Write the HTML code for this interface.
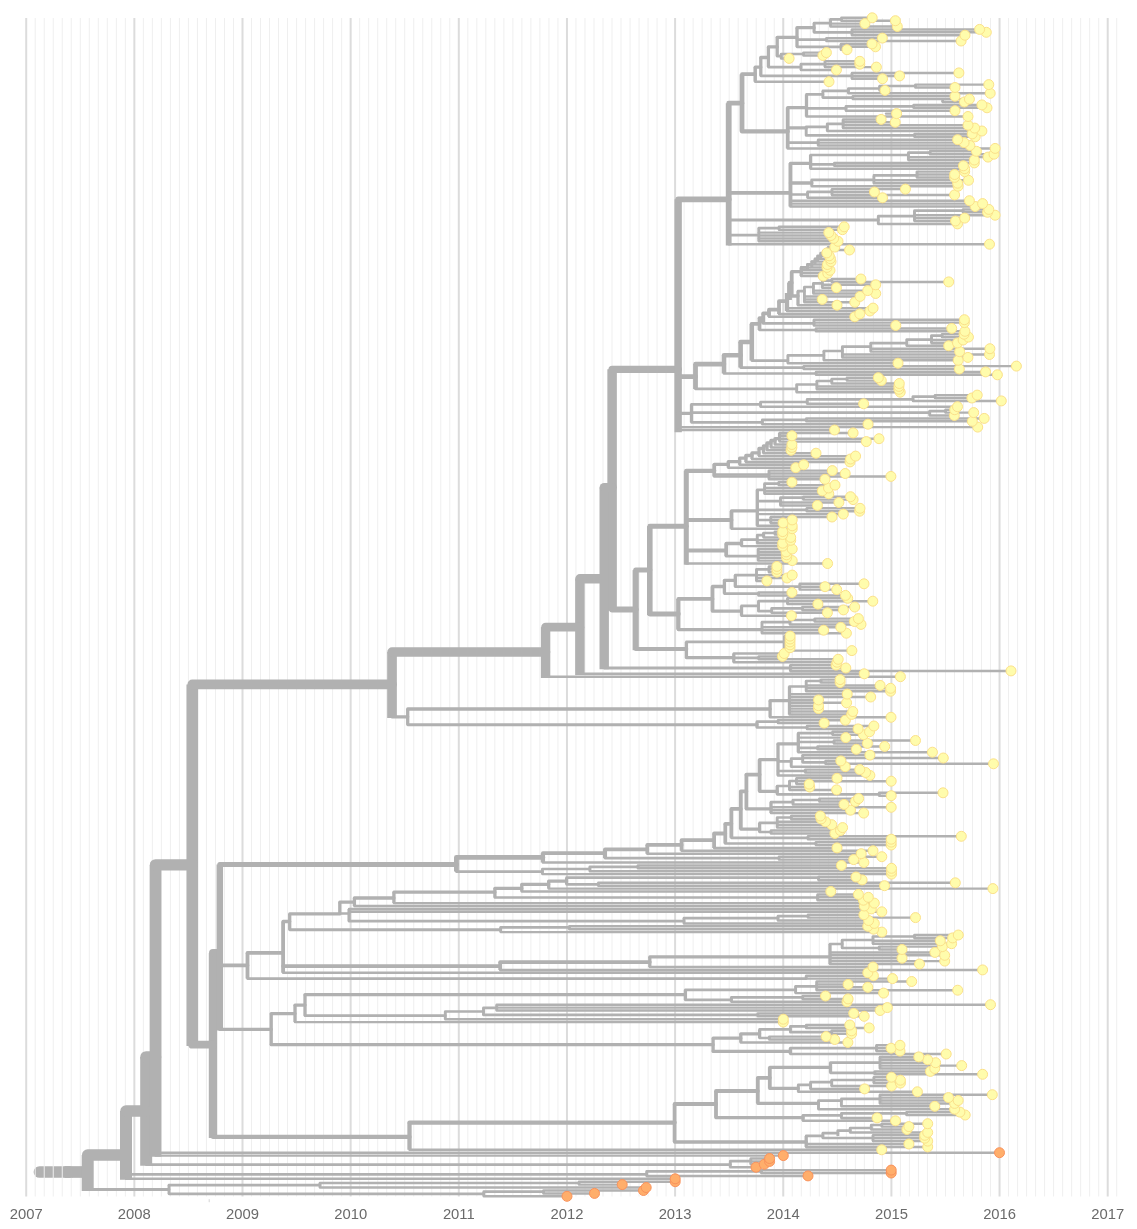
<!DOCTYPE html><html><head><meta charset="utf-8"><style>html,body{margin:0;padding:0;background:#fff}body{width:1137px;height:1229px;overflow:hidden;position:relative;font-family:"Liberation Sans",sans-serif}</style></head><body><svg width="1137" height="1229" viewBox="0 0 1137 1229" style="position:absolute;left:0;top:0;filter:blur(0.35px)">
<line x1="39.5" y1="1172" x2="70" y2="1172" stroke="#b1b1b1" stroke-width="11.7" stroke-linecap="round"/>
<path d="M35.21 18V1196.5M44.23 18V1196.5M53.24 18V1196.5M62.25 18V1196.5M71.26 18V1196.5M80.28 18V1196.5M89.29 18V1196.5M98.30 18V1196.5M107.31 18V1196.5M116.33 18V1196.5M125.34 18V1196.5M143.36 18V1196.5M152.38 18V1196.5M161.39 18V1196.5M170.40 18V1196.5M179.41 18V1196.5M188.42 18V1196.5M197.44 18V1196.5M206.45 18V1196.5M215.46 18V1196.5M224.47 18V1196.5M233.49 18V1196.5M251.51 18V1196.5M260.53 18V1196.5M269.54 18V1196.5M278.55 18V1196.5M287.56 18V1196.5M296.57 18V1196.5M305.59 18V1196.5M314.60 18V1196.5M323.61 18V1196.5M332.62 18V1196.5M341.64 18V1196.5M359.66 18V1196.5M368.67 18V1196.5M377.69 18V1196.5M386.70 18V1196.5M395.71 18V1196.5M404.73 18V1196.5M413.74 18V1196.5M422.75 18V1196.5M431.76 18V1196.5M440.78 18V1196.5M449.79 18V1196.5M467.81 18V1196.5M476.82 18V1196.5M485.84 18V1196.5M494.85 18V1196.5M503.86 18V1196.5M512.88 18V1196.5M521.89 18V1196.5M530.90 18V1196.5M539.91 18V1196.5M548.93 18V1196.5M557.94 18V1196.5M575.96 18V1196.5M584.98 18V1196.5M593.99 18V1196.5M603.00 18V1196.5M612.01 18V1196.5M621.03 18V1196.5M630.04 18V1196.5M639.05 18V1196.5M648.06 18V1196.5M657.08 18V1196.5M666.09 18V1196.5M684.11 18V1196.5M693.13 18V1196.5M702.14 18V1196.5M711.15 18V1196.5M720.16 18V1196.5M729.18 18V1196.5M738.19 18V1196.5M747.20 18V1196.5M756.21 18V1196.5M765.23 18V1196.5M774.24 18V1196.5M792.26 18V1196.5M801.27 18V1196.5M810.29 18V1196.5M819.30 18V1196.5M828.31 18V1196.5M837.33 18V1196.5M846.34 18V1196.5M855.35 18V1196.5M864.36 18V1196.5M873.38 18V1196.5M882.39 18V1196.5M900.41 18V1196.5M909.43 18V1196.5M918.44 18V1196.5M927.45 18V1196.5M936.46 18V1196.5M945.48 18V1196.5M954.49 18V1196.5M963.50 18V1196.5M972.51 18V1196.5M981.53 18V1196.5M990.54 18V1196.5M1008.56 18V1196.5M1017.58 18V1196.5M1026.59 18V1196.5M1035.60 18V1196.5M1044.61 18V1196.5M1053.62 18V1196.5M1062.64 18V1196.5M1071.65 18V1196.5M1080.66 18V1196.5M1089.68 18V1196.5M1098.69 18V1196.5M1116.71 18V1196.5" stroke="#efefef" stroke-width="1" fill="none"/>
<path d="M26.20 18V1196.5M134.35 18V1196.5M242.50 18V1196.5M350.65 18V1196.5M458.80 18V1196.5M566.95 18V1196.5M675.10 18V1196.5M783.25 18V1196.5M891.40 18V1196.5M999.55 18V1196.5M1107.70 18V1196.5" stroke="#dcdcdc" stroke-width="2" fill="none"/>
<line x1="64.5" y1="1172" x2="88" y2="1172" stroke="#b1b1b1" stroke-width="11.7"/>
<path d="M87.7 1155.0V1190.9M126.0 1111.0V1179.8" stroke="#b1b1b1" stroke-width="12" fill="none"/>
<path d="M146.1 1057.0V1165.8" stroke="#b1b1b1" stroke-width="11.8" fill="none"/>
<path d="M146.1 1057.0H155.5" stroke="#b1b1b1" stroke-width="11.7" fill="none" stroke-linecap="round"/>
<path d="M155.5 864.9V1156.8M192.3 684.4V1045.9" stroke="#b1b1b1" stroke-width="11.7" fill="none"/>
<path d="M87.7 1155.0H126.0M126.0 1111.0H146.1" stroke="#b1b1b1" stroke-width="11.5" fill="none" stroke-linecap="round"/>
<path d="M155.5 864.9H192.3" stroke="#b1b1b1" stroke-width="11.4" fill="none" stroke-linecap="round"/>
<path d="M192.3 684.4H392.0" stroke="#b1b1b1" stroke-width="9.7" fill="none" stroke-linecap="round"/>
<path d="M392.0 652.0V718.0" stroke="#b1b1b1" stroke-width="9.7" fill="none"/>
<path d="M579.9 578.8V675.0M612.1 369.3V610.8" stroke="#b1b1b1" stroke-width="9.5" fill="none"/>
<path d="M392.0 652.0H545.6M579.9 578.8H604.2" stroke="#b1b1b1" stroke-width="9.4" fill="none" stroke-linecap="round"/>
<path d="M545.6 627.2V677.9M604.2 487.5V669.2" stroke="#b1b1b1" stroke-width="9.4" fill="none"/>
<path d="M604.2 487.5H612.1" stroke="#b1b1b1" stroke-width="9.2" fill="none" stroke-linecap="round"/>
<path d="M545.6 627.2H579.9" stroke="#b1b1b1" stroke-width="8.8" fill="none" stroke-linecap="round"/>
<path d="M213.0 953.0V1138.1" stroke="#b1b1b1" stroke-width="8.4" fill="none"/>
<path d="M213.0 953.0H216.5" stroke="#b1b1b1" stroke-width="8" fill="none" stroke-linecap="round"/>
<path d="M192.3 1044.7H213.0" stroke="#b1b1b1" stroke-width="7.8" fill="none" stroke-linecap="round"/>
<path d="M612.1 369.3H678.2" stroke="#b1b1b1" stroke-width="7.3" fill="none" stroke-linecap="round"/>
<path d="M678.2 199.3V432.2" stroke="#b1b1b1" stroke-width="7.3" fill="none"/>
<path d="M219.8 864.5V1030.6" stroke="#b1b1b1" stroke-width="6.5" fill="none"/>
<path d="M635.7 570.1V650.2" stroke="#b1b1b1" stroke-width="6.2" fill="none"/>
<path d="M612.1 609.6H635.7" stroke="#b1b1b1" stroke-width="6" fill="none" stroke-linecap="round"/>
<path d="M728.7 103.2V245.4" stroke="#b1b1b1" stroke-width="5.8" fill="none"/>
<path d="M678.2 199.3H728.7" stroke="#b1b1b1" stroke-width="5.7" fill="none" stroke-linecap="round"/>
<path d="M649.8 526.2V615.2" stroke="#b1b1b1" stroke-width="5.6" fill="none"/>
<path d="M219.8 864.5H456.4M635.7 570.1H649.8" stroke="#b1b1b1" stroke-width="5" fill="none" stroke-linecap="round"/>
<path d="M686.3 470.8V564.7" stroke="#b1b1b1" stroke-width="5" fill="none"/>
<path d="M649.8 526.2H686.3" stroke="#b1b1b1" stroke-width="4.9" fill="none" stroke-linecap="round"/>
<path d="M728.7 103.2H742.0M678.2 376.6H695.5M649.8 614.0H678.3M456.4 857.4H542.9" stroke="#b1b1b1" stroke-width="4.8" fill="none" stroke-linecap="round"/>
<path d="M742.0 74.2V131.4M695.5 364.1V388.9M789.5 282.7V300.0M456.4 857.4V871.6" stroke="#b1b1b1" stroke-width="4.8" fill="none"/>
<path d="M695.5 364.1H724.0M724.0 355.2H740.6M740.6 342.0H751.8" stroke="#b1b1b1" stroke-width="4.6" fill="none" stroke-linecap="round"/>
<path d="M724.0 355.2V373.5M740.6 342.0V367.6M751.8 323.9V360.6" stroke="#b1b1b1" stroke-width="4.6" fill="none"/>
<path d="M213.0 1136.9H409.5M409.5 1122.6H674.6M742.0 131.4H787.7M686.3 470.8H714.2" stroke="#b1b1b1" stroke-width="4.3" fill="none" stroke-linecap="round"/>
<path d="M409.5 1122.6V1149.8M787.0 293.0V311.0M678.3 598.9V629.6M542.9 853.2V862.5" stroke="#b1b1b1" stroke-width="4.3" fill="none"/>
<path d="M605.0 849.3V858.1" stroke="#b1b1b1" stroke-width="4.1" fill="none"/>
<path d="M219.8 965.3H247.5M674.6 1104.0H716.0M716.0 1091.0H757.8M742.0 74.2H755.2M728.7 192.9H790.4M751.6 323.9H759.5M759.5 318.1H763.2M763.2 313.4H769.0M769.0 309.7H779.0M779.0 301.2H787.0M789.5 282.7H791.7M635.7 649.0H686.4M686.3 520.0H731.5M686.3 550.5H726.2M678.3 598.9H712.5M542.9 853.2H605.0M605.0 849.3H647.3M647.3 844.9H681.6M681.6 840.2H714.1M714.1 833.5H725.3M725.3 823.8H731.4M731.4 808.9H740.8M740.8 791.3H746.4M746.4 774.6H759.6M247.5 952.9H283.1M283.1 966.1H500.2M500.2 962.1H649.8M757.8 1077.8H769.8" stroke="#b1b1b1" stroke-width="3.8" fill="none" stroke-linecap="round"/>
<path d="M674.6 1104.0V1142.0M716.0 1091.0V1117.7M787.7 107.6V148.4M790.4 163.3V206.5M759.5 318.1V330.0M763.2 313.4V323.4M769.0 309.7V316.8M779.0 301.2V313.9M791.7 271.7V296.0M714.2 464.3V476.4M731.5 510.9V528.7M726.2 543.5V556.2M712.5 586.5V611.2M647.3 844.9V853.7M681.6 840.2V850.8M714.1 833.5V847.9M725.3 823.8V843.5M731.4 808.9V837.8M740.8 791.3V829.1M746.4 774.6V808.9M759.6 759.6V791.3M247.5 952.9V978.6M283.1 921.5V972.8M500.2 962.1V969.9M757.8 1077.8V1103.3M769.8 1067.3V1088.4" stroke="#b1b1b1" stroke-width="3.8" fill="none"/>
<path d="M755.2 67.2V81.7" stroke="#b1b1b1" stroke-width="3.5" fill="none"/>
<path d="M392.0 716.8H407.7M407.7 709.0H770.1M219.8 1029.4H271.2M716.0 1117.7H803.0M674.6 1142.0H806.2M755.2 67.2H760.8M760.8 57.5H768.4M768.4 46.9H777.2M777.2 37.3H797.0M797.0 27.7H814.1M787.7 107.6H806.5M787.7 127.9H806.2M790.4 163.3H810.6M790.4 183.0H811.8M791.7 271.7H801.2M791.7 296.0H798.0M678.2 413.3H691.5M686.4 657.6H733.8M714.2 464.3H728.3M728.3 461.7H739.7M739.7 458.1H745.9M745.9 455.5H752.0M752.0 452.9H759.0M759.0 448.5H763.5M763.5 445.8H767.0M767.0 443.0H771.0M771.0 440.5H775.0M775.0 438.7H779.6M731.5 510.9H757.3M726.2 543.5H741.5M712.5 586.5H724.4M724.4 580.4H735.3M712.5 611.2H741.5M678.3 629.6H762.0M770.1 700.7H789.5M740.8 829.1H759.6M746.4 808.9H771.0M759.6 791.3H777.2M759.6 759.6H778.0M778.0 743.8H798.3M283.1 921.5H289.7M289.7 913.9H339.8M339.8 902.2H354.4M354.4 898.0H393.9M393.9 892.2H494.9M494.9 888.3H521.8M521.8 884.3H548.7M548.7 881.1H566.6M649.8 956.9H830.0M271.2 1013.6H295.0M295.0 1005.1H305.0M305.0 994.6H685.4M271.2 1044.7H713.1M713.1 1038.2H740.8M740.8 1033.8H759.6M713.1 1051.4H790.4M769.8 1067.3H830.5M769.8 1088.4H798.3M757.8 1103.3H818.5" stroke="#b1b1b1" stroke-width="3.3" fill="none" stroke-linecap="round"/>
<path d="M407.7 709.0V724.8M760.8 57.5V75.8M768.4 46.9V67.1M777.2 37.3V56.2M797.0 27.7V46.8M806.5 94.4V116.5M810.6 155.0V168.7M801.2 267.4V276.1M798.0 291.2V305.2M691.5 404.3V422.3M686.4 641.9V657.6M733.8 653.5V662.2M728.3 461.7V467.7M739.7 458.1V464.8M745.9 455.5V461.9M752.0 452.9V459.0M759.0 448.5V456.1M763.5 445.8V453.2M767.0 443.0V450.3M771.0 440.5V447.4M775.0 438.7V444.5M779.6 432.9V441.6M757.3 489.8V525.8M741.5 539.6V546.1M724.4 580.4V593.6M735.3 575.1V586.7M741.5 605.9V615.7M770.1 700.7V717.3M789.5 686.5V714.4M757.0 721.7V727.5M759.6 822.9V832.0M771.0 802.2V813.1M777.2 786.0V794.3M778.0 743.8V775.4M798.3 733.2V752.2M289.7 913.9V929.7M339.8 902.2V913.9M354.4 898.0V906.0M393.9 892.2V903.1M494.9 888.3V897.5M521.8 884.3V891.5M548.7 881.1V888.6M566.6 877.7V884.3M349.1 908.9V921.2M649.8 956.9V967.0M830.0 944.0V964.0M271.2 1013.6V1044.7M295.0 1005.1V1022.1M305.0 994.6V1015.7M685.4 989.8V999.9M713.1 1038.2V1051.4M740.8 1033.8V1042.4M759.6 1029.4V1038.0M790.4 1048.1V1054.0M830.5 1062.6V1072.8M803.0 1115.3V1120.8M806.2 1135.9V1146.9" stroke="#b1b1b1" stroke-width="3.3" fill="none"/>
<path d="M814.1 23.1V32.3" stroke="#b1b1b1" stroke-width="3.1" fill="none"/>
<path d="M87.7 1189.5H169.0M407.7 724.8H757.0M604.2 668.0H790.4M728.7 220.0H878.3M728.7 235.1H758.8M456.4 871.6H542.4M289.7 929.7H500.7M146.1 1164.6H730.3M126.0 1174.4H646.7" stroke="#b1b1b1" stroke-width="2.9" fill="none" stroke-linecap="round"/>
<path d="M790.4 665.1V670.9M852.0 72.9V78.8M801.0 64.2V70.0M825.0 61.3V67.1M781.2 54.0V58.4M803.5 52.6V55.5M841.0 43.9V49.7M826.4 38.1V41.0M852.0 29.4V35.2M830.5 19.3V26.5M841.4 17.8V20.7M822.9 90.9V97.6M848.4 88.5V93.3M879.7 86.0V90.4M915.4 84.6V87.5M852.8 96.2V99.1M942.7 99.1V102.0M913.6 104.9V107.8M846.0 106.4V110.7M806.2 126.8V135.4M827.3 123.8V131.0M843.1 119.4V128.1M914.5 133.9V136.8M818.2 139.7V145.5M908.4 152.7V160.0M930.0 151.3V154.2M834.3 162.9V165.8M811.8 179.8V186.2M873.9 176.0V183.2M917.0 171.6V177.4M807.6 191.9V197.8M832.0 189.1V194.9M878.3 216.2V223.9M914.5 210.7V221.0M963.0 209.4V212.3M758.8 228.2V241.3M779.0 226.8V229.7M816.0 328.4V331.3M814.0 319.7V325.5M807.5 264.3V270.6M811.8 261.6V266.9M815.0 259.0V264.3M817.6 256.4V261.6M820.7 253.7V259.0M828.0 247.1V250.0M804.4 287.0V302.3M813.4 283.3V293.5M822.3 280.6V287.7M831.8 279.0V281.9M796.7 384.5V392.2M816.9 381.0V389.3M831.8 379.0V383.5M847.0 377.7V380.6M816.0 371.9V374.8M803.7 366.1V369.0M787.9 355.4V363.2M823.9 351.0V360.3M842.4 346.6V357.4M870.8 343.1V351.6M906.8 339.6V345.8M931.5 335.6V342.9M942.0 334.2V337.1M760.6 402.0V406.7M807.2 399.4V403.8M913.0 396.6V400.9M935.0 395.1V398.0M762.3 419.9V424.2M806.3 418.4V421.3M929.7 411.1V415.5M945.5 409.7V412.6M784.5 636.1V650.6M758.7 656.4V659.3M769.0 470.6V479.3M764.6 483.7V493.8M778.7 482.2V485.1M780.5 497.7V505.4M803.3 496.7V499.6M806.8 508.3V511.2M770.8 517.0V522.9M757.3 535.2V543.2M763.5 533.0V537.4M775.0 531.6V534.5M758.2 549.0V560.6M756.5 569.3V580.9M769.0 566.4V572.2M799.8 583.8V589.6M758.5 592.5V595.4M758.5 601.2V611.2M787.5 598.3V604.1M771.7 608.4V612.8M802.4 607.0V609.9M762.0 622.2V633.2M790.0 620.0V624.4M814.8 618.6V621.5M806.2 681.0V691.2M821.0 679.6V682.5M778.0 720.2V723.1M807.0 726.0V728.9M779.0 856.7V859.6M815.9 842.1V845.0M808.0 836.3V839.2M777.2 817.5V827.6M791.2 816.0V818.9M771.0 830.5V833.4M793.0 800.0V804.4M819.4 798.6V801.5M789.5 781.0V789.9M796.5 778.3V784.1M879.2 792.8V795.7M832.6 731.8V734.7M834.0 740.5V743.4M817.6 746.4V749.3M791.2 758.7V766.7M802.7 755.1V762.3M825.5 760.9V763.8M805.3 769.6V772.5M542.4 869.0V874.1M589.9 866.8V871.2M637.9 865.4V868.3M818.5 877.0V879.9M598.3 882.8V885.7M817.6 894.4V900.2M684.0 918.1V923.4M778.0 916.2V920.5M808.0 914.7V917.6M500.7 927.3V932.1M569.3 926.3V929.2M842.2 940.0V948.0M873.0 936.5V943.7M914.4 935.0V937.9M879.2 946.6V949.5M806.2 975.7V978.6M795.6 986.3V993.1M816.7 981.5V990.2M731.4 997.3V1001.8M802.7 996.0V998.9M445.3 1011.5V1019.2M483.5 1007.8V1014.9M496.7 1004.7V1010.5M757.8 1013.4V1016.3M790.4 1026.4V1032.2M806.2 1025.0V1027.9M831.7 1030.8V1033.7M769.3 1036.6V1039.5M876.5 1045.3V1051.1M880.0 1056.9V1068.5M874.8 1071.4V1074.3M798.3 1084.9V1091.8M810.6 1082.2V1088.9M831.7 1080.0V1086.0M873.9 1077.2V1083.1M818.5 1100.7V1109.2M841.4 1098.9V1106.3M880.0 1094.7V1103.4M841.4 1113.4V1117.9M906.5 1112.1V1115.0M822.9 1133.2V1138.0M837.9 1130.6V1135.9M850.2 1128.0V1132.4M871.3 1125.0V1129.5M881.8 1123.7V1126.6M873.0 1135.3V1141.1M730.3 1161.2V1167.2M750.8 1158.5V1164.3M646.7 1171.4V1175.9M761.3 1170.1V1173.0M169.0 1185.1V1193.8M320.0 1183.0V1187.5M579.0 1181.7V1184.6M483.8 1191.7V1196.3M543.5 1190.5V1193.4" stroke="#b1b1b1" stroke-width="2.9" fill="none"/>
<path d="M760.8 75.8H852.0M768.4 67.1H801.0M801.0 64.2H825.0M777.2 56.2H781.2M781.2 54.0H803.5M797.0 46.8H841.0M797.0 39.6H826.4M814.1 32.3H852.0M814.1 23.1H830.5M830.5 19.3H841.4M806.5 94.4H822.9M822.9 90.9H848.4M848.4 88.5H879.7M879.7 86.0H915.4M822.9 97.6H852.8M806.5 108.3H846.0M846.0 106.4H913.6M806.2 126.8H827.3M827.3 123.8H843.1M806.2 135.4H914.5M787.7 142.6H818.2M810.6 155.0H908.4M908.4 152.7H930.0M810.6 164.4H834.3M811.8 179.8H873.9M873.9 175.4H917.0M790.4 194.5H807.6M807.6 191.9H832.0M878.3 216.2H914.5M914.5 210.7H963.0M758.8 228.2H779.0M759.5 330.0H816.0M763.2 323.4H814.0M801.2 267.4H807.5M807.5 264.3H811.8M811.8 261.6H815.0M815.0 259.0H817.6M817.6 256.4H820.7M820.7 253.7H828.0M798.0 291.2H804.4M804.4 287.0H813.4M813.4 283.3H822.3M822.3 280.6H831.8M695.5 388.9H796.7M796.7 384.5H816.9M816.9 381.0H831.8M831.8 379.0H847.0M724.0 373.5H816.0M740.6 367.6H803.7M751.8 360.6H787.9M787.9 355.4H823.9M823.9 351.0H842.4M842.4 346.6H870.8M870.8 343.1H906.8M906.8 339.6H931.5M931.5 335.6H942.0M691.5 404.3H760.6M760.6 402.0H807.2M807.2 399.4H913.0M913.0 396.6H935.0M691.5 422.3H762.3M762.3 419.9H806.3M691.5 412.6H929.7M929.7 411.1H945.5M686.4 641.9H784.5M733.8 657.8H758.7M714.2 474.5H769.0M757.3 489.8H764.6M764.6 483.7H778.7M757.3 501.2H780.5M780.5 497.7H803.3M757.3 509.8H806.8M757.3 520.0H770.8M741.5 539.6H757.3M757.3 535.2H763.5M763.5 533.0H775.0M726.2 556.2H758.2M735.3 575.1H756.5M756.5 569.3H769.0M735.3 586.7H799.8M724.4 593.6H758.5M741.5 605.9H758.5M758.5 601.2H787.5M758.5 611.2H771.7M771.7 608.4H802.4M762.0 622.2H790.0M790.0 620.0H814.8M789.5 686.5H806.2M806.2 681.0H821.0M757.0 721.7H778.0M757.0 727.5H807.0M605.0 858.1H779.0M725.3 843.5H815.9M731.4 837.8H808.0M759.6 822.9H777.2M777.2 817.5H791.2M759.6 832.0H771.0M771.0 802.2H793.0M793.0 800.0H819.4M777.2 786.0H789.5M789.5 781.0H796.5M777.2 794.3H879.2M798.3 733.2H832.6M798.3 742.0H834.0M798.3 747.8H817.6M778.0 761.4H791.2M791.2 758.7H802.7M802.7 762.3H825.5M778.0 771.0H805.3M542.4 869.0H589.9M589.9 866.8H637.9M566.6 877.7H818.5M566.6 884.3H598.3M494.9 897.5H817.6M339.8 913.5H349.1M349.1 921.2H684.0M684.0 918.1H778.0M778.0 916.2H808.0M500.7 927.3H569.3M830.0 944.0H842.2M842.2 940.0H873.0M873.0 936.5H914.4M842.2 948.0H879.2M247.5 978.6H806.2M685.4 989.8H795.6M795.6 986.3H816.7M685.4 999.9H731.4M731.4 997.3H802.7M305.0 1015.7H445.3M445.3 1011.5H483.5M483.5 1007.8H496.7M483.5 1014.9H757.8M759.6 1029.4H790.4M790.4 1026.4H806.2M790.4 1032.2H831.7M759.6 1038.0H769.3M790.4 1048.1H876.5M830.5 1062.6H880.0M830.5 1072.8H874.8M798.3 1084.9H810.6M810.6 1082.2H831.7M831.7 1080.0H873.9M818.5 1100.7H841.4M841.4 1098.9H880.0M803.0 1115.3H841.4M841.4 1113.4H906.5M806.2 1135.9H822.9M822.9 1133.2H837.9M837.9 1130.6H850.2M850.2 1128.0H871.3M871.3 1125.0H881.8M822.9 1138.0H873.0M730.3 1161.2H750.8M646.7 1171.4H761.3M169.0 1185.1H320.0M320.0 1183.0H579.0M169.0 1193.8H483.8M483.8 1191.7H543.5" stroke="#b1b1b1" stroke-width="2.7" fill="none" stroke-linecap="round"/>
<path d="M841.4 17.8H872.2M841.4 20.7H895.4M830.5 23.6H864.9M830.5 26.5H897.3M852.0 29.4H979.6M852.0 32.3H986.3M852.0 35.2H965.0M826.4 38.1H882.3M826.4 41.0H961.1M841.0 43.9H872.0M841.0 46.8H875.5M841.0 49.7H847.0M803.5 52.6H826.4M803.5 55.5H822.9M781.2 58.4H789.1M825.0 61.3H859.8M825.0 64.2H859.8M825.0 67.1H876.4M801.0 70.0H836.4M852.0 72.9H958.9M852.0 75.9H899.6M852.0 78.8H882.5M755.2 81.7H829.0M915.4 84.6H988.8M915.4 87.5H955.0M879.7 90.4H885.0M848.4 93.3H990.2M852.8 96.2H955.0M852.8 99.1H969.4M942.7 102.0H964.3M913.6 104.9H981.9M913.6 107.8H987.0M846.0 110.7H955.0M886.0 113.6H896.6M806.5 116.5H968.0M843.1 119.4H881.1M843.1 122.3H895.2M843.1 125.2H968.0M843.1 128.1H974.7M827.3 131.0H981.9M914.5 133.9H972.2M914.5 136.8H975.2M818.2 139.7H957.6M818.2 142.6H964.1M818.2 145.5H969.9M787.7 148.4H995.1M930.0 151.3H976.4M930.0 154.2H994.0M908.4 157.1H988.0M908.4 160.0H974.3M834.3 162.9H974.3M834.3 165.8H963.4M810.6 168.7H964.7M917.0 171.6H964.7M917.0 174.5H954.6M917.0 177.4H954.6M873.9 180.3H968.5M873.9 183.2H957.6M811.8 186.2H958.1M832.0 189.1H905.4M832.0 192.0H874.4M832.0 194.9H954.6M807.6 197.8H882.5M790.4 200.7H969.4M790.4 203.6H982.6M790.4 206.5H975.2M963.0 209.4H988.8M963.0 212.3H987.5M914.5 215.2H995.1M914.5 218.1H964.7M914.5 221.0H955.5M878.3 223.9H957.5M779.0 226.8H844.2M779.0 229.7H842.5M758.8 232.6H828.8M758.8 235.5H831.0M758.8 238.4H833.6M758.8 241.3H838.0M728.7 244.2H989.5M828.0 247.1H834.8M828.0 250.0H849.5M820.7 252.9H826.8M817.6 255.8H829.2M815.0 258.7H830.4M811.8 261.6H831.0M807.5 264.5H827.4M801.2 267.4H827.0M801.2 270.3H830.0M801.2 273.2H827.8M801.2 276.1H823.2M831.8 279.0H860.9M831.8 281.9H948.7M822.3 284.8H875.7M822.3 287.7H836.4M813.4 290.6H867.7M813.4 293.5H875.7M804.4 296.4H860.1M804.4 299.4H822.2M804.4 302.3H854.8M798.0 305.2H837.0M787.0 308.1H873.1M787.0 311.0H869.9M779.0 313.9H859.8M769.0 316.8H854.8M814.0 319.7H964.4M814.0 322.6H964.4M814.0 325.5H895.8M816.0 328.4H951.7M816.0 331.3H964.9M942.0 334.2H964.0M942.0 337.1H968.4M931.5 340.0H963.1M931.5 342.9H957.5M906.8 345.8H948.7M870.8 348.7H989.9M870.8 351.6H959.6M842.4 354.5H989.5M842.4 357.4H967.9M823.9 360.3H958.2M787.9 363.2H898.0M803.7 366.1H1016.4M803.7 369.0H959.3M816.0 371.9H985.6M816.0 374.8H997.4M847.0 377.7H878.3M847.0 380.6H881.3M831.8 383.5H899.3M816.9 386.4H898.9M816.9 389.3H898.9M796.7 392.2H900.2M935.0 395.1H977.2M935.0 398.0H971.9M913.0 400.9H1001.3M807.2 403.8H863.6M760.6 406.7H957.5M945.5 409.7H954.7M945.5 412.6H973.7M929.7 415.5H954.3M806.3 418.4H984.2M806.3 421.3H972.3M762.3 424.2H868.0M678.2 427.1H977.7M678.2 430.0H834.5M779.6 432.9H853.1M779.6 435.8H791.9M779.6 438.7H879.0M779.6 441.6H866.3M775.0 444.5H791.9M771.0 447.4H791.9M767.0 450.3H791.0M763.5 453.2H816.0M759.0 456.1H855.6M752.0 459.0H850.5M745.9 461.9H850.0M739.7 464.8H803.7M728.3 467.7H795.8M769.0 470.6H832.3M769.0 473.5H845.2M714.2 476.4H890.9M769.0 479.3H825.0M778.7 482.2H791.9M778.7 485.1H835.0M764.6 488.0H828.5M764.6 490.9H822.3M764.6 493.8H828.8M803.3 496.7H850.5M803.3 499.6H853.1M780.5 502.5H838.9M780.5 505.4H817.4M806.8 508.3H860.0M806.8 511.2H859.6M757.3 514.1H843.3M770.8 517.0H832.0M770.8 519.9H792.2M770.8 522.9H783.1M757.3 525.8H792.2M731.5 528.7H792.2M775.0 531.6H782.7M775.0 534.5H782.7M763.7 537.4H790.7M757.3 540.3H790.7M757.3 543.2H782.7M741.5 546.1H782.7M758.2 549.0H792.2M758.2 551.9H786.1M758.2 554.8H786.6M758.2 557.7H786.6M758.2 560.6H792.2M686.3 563.5H827.6M769.0 566.4H776.9M769.0 569.3H776.9M769.0 572.2H776.9M756.5 575.1H792.2M756.5 578.0H787.1M756.5 580.9H766.9M799.8 583.8H864.0M799.8 586.7H825.0M799.8 589.6H836.7M758.5 592.5H791.9M758.5 595.4H845.5M787.5 598.3H847.7M787.5 601.2H872.8M787.5 604.1H817.9M802.4 607.0H854.7M802.4 609.9H843.4M771.7 612.8H827.4M741.5 615.7H791.4M814.8 618.6H858.4M814.8 621.5H854.3M790.0 624.4H861.0M762.0 627.3H840.8M762.0 630.2H823.6M762.0 633.2H846.4M784.5 636.1H790.1M784.5 639.0H790.1M784.5 641.9H790.0M784.5 644.8H790.0M784.5 647.7H790.0M784.5 650.6H851.9M733.8 653.5H784.2M758.7 656.4H782.4M758.7 659.3H838.2M733.8 662.2H837.0M790.4 665.1H836.1M790.4 668.0H845.8M790.4 670.9H1011.0M579.9 673.8H864.2M545.6 676.7H900.4M821.0 679.6H840.1M821.0 682.5H840.1M806.2 685.4H880.1M806.2 688.3H890.6M806.2 691.2H890.6M789.5 694.1H847.2M789.5 697.0H870.7M789.5 699.9H818.5M789.5 702.8H846.6M789.5 705.7H818.5M789.5 708.6H818.5M789.5 711.5H852.8M789.5 714.4H851.6M770.1 717.3H891.0M778.0 720.2H845.4M778.0 723.1H824.1M807.0 726.0H873.9M807.0 728.9H858.1M832.6 731.8H869.5M832.6 734.7H863.4M798.3 737.6H845.8M834.0 740.5H915.5M834.0 743.4H867.4M817.6 746.4H884.7M817.6 749.3H856.3M798.3 752.2H932.4M802.7 755.1H869.9M802.7 758.0H943.3M825.5 760.9H840.8M825.5 763.8H993.5M791.2 766.7H845.2M805.3 769.6H859.8M805.3 772.5H865.6M778.0 775.4H869.9M796.5 778.3H837.0M796.5 781.2H891.2M796.5 784.1H809.2M789.5 787.0H809.7M789.5 789.9H836.6M879.2 792.8H943.0M879.2 795.7H891.2M819.4 798.6H858.6M819.4 801.5H855.4M793.0 804.4H844.0M771.0 807.3H891.2M771.0 810.2H850.5M771.0 813.1H863.7M791.2 816.0H820.3M791.2 818.9H821.1M777.2 821.8H825.5M777.2 824.7H831.7M777.2 827.6H842.6M771.0 830.5H840.5M771.0 833.4H834.9M808.0 836.3H961.3M808.0 839.2H891.2M815.9 842.1H891.2M815.9 845.0H891.2M714.1 847.9H837.0M681.6 850.8H873.0M647.3 853.7H861.2M779.0 856.7H881.8M779.0 859.6H853.7M542.9 862.5H863.9M637.9 865.4H841.4M637.9 868.3H891.5M589.9 871.2H891.5M542.4 874.1H891.5M818.5 877.0H856.0M818.5 879.9H862.1M598.3 882.8H955.3M598.3 885.7H884.5M548.7 888.6H992.9M521.8 891.5H830.8M817.6 894.4H858.4M817.6 897.3H868.3M817.6 900.2H863.4M393.9 903.1H874.3M354.4 906.0H864.2M349.1 908.9H871.3M349.1 911.8H881.8M808.0 914.7H863.9M808.0 917.6H915.5M778.0 920.5H868.6M684.0 923.4H874.3M569.3 926.3H867.8M569.3 929.2H873.6M500.7 932.1H881.8M914.4 935.0H958.3M914.4 937.9H952.6M873.0 940.8H940.3M873.0 943.7H951.6M879.2 946.6H942.4M879.2 949.5H902.0M830.0 952.4H934.9M830.0 955.3H944.7M830.0 958.2H902.0M830.0 961.1H944.7M830.0 964.0H919.5M649.8 967.0H873.0M500.2 969.9H982.6M283.1 972.8H867.8M806.2 975.7H873.4M806.2 978.6H892.5M816.7 981.5H911.7M816.7 984.4H848.1M816.7 987.3H867.8M816.7 990.2H957.7M795.6 993.1H883.6M802.7 996.0H825.5M802.7 998.9H848.1M731.4 1001.8H847.0M496.7 1004.7H990.5M496.7 1007.6H887.3M496.7 1010.5H880.1M757.8 1013.4H853.7M757.8 1016.3H864.2M445.3 1019.2H783.3M295.0 1022.1H783.3M806.2 1025.0H849.8M806.2 1027.9H869.2M831.7 1030.8H851.6M831.7 1033.7H851.6M769.3 1036.6H826.1M769.3 1039.5H834.7M740.8 1042.4H847.9M876.5 1045.3H900.0M876.5 1048.2H891.1M876.5 1051.1H900.0M790.4 1054.0H946.2M880.0 1056.9H918.8M880.0 1059.8H927.7M880.0 1062.7H935.6M880.0 1065.6H961.7M880.0 1068.5H934.8M874.8 1071.4H930.4M874.8 1074.3H982.6M873.9 1077.2H891.4M873.9 1080.2H900.4M873.9 1083.1H900.4M831.7 1086.0H891.6M810.6 1088.9H864.6M798.3 1091.8H917.4M880.0 1094.7H992.3M880.0 1097.6H948.5M880.0 1100.5H958.2M880.0 1103.4H954.6M841.4 1106.3H934.8M818.5 1109.2H954.6M906.5 1112.1H959.9M906.5 1115.0H965.2M841.4 1117.9H877.1M803.0 1120.8H895.5M881.8 1123.7H927.7M881.8 1126.6H908.9M871.3 1129.5H906.9M850.2 1132.4H927.7M873.0 1135.3H924.7M873.0 1138.2H924.7M873.0 1141.1H927.7M806.2 1144.0H908.9M806.2 1146.9H927.7M409.5 1149.8H881.7M155.5 1152.7H999.5M155.5 1155.6H783.3M750.8 1158.5H769.6M750.8 1161.4H769.6M750.8 1164.3H764.3M730.3 1167.2H756.0M761.3 1170.1H891.2M761.3 1173.0H891.2M646.7 1175.9H808.0M126.0 1178.8H675.2M579.0 1181.7H675.2M579.0 1184.6H622.2M320.0 1187.5H646.2M543.5 1190.5H643.5M543.5 1193.4H594.5M483.8 1196.3H567.0" stroke="#b1b1b1" stroke-width="2.45" fill="none" stroke-linecap="round"/>
<g fill="#fffcac" stroke="#fbe08a" stroke-width="1"><circle cx="881.7" cy="1149.8" r="5"/><circle cx="927.7" cy="1146.9" r="5"/><circle cx="908.9" cy="1144.0" r="5"/><circle cx="927.7" cy="1141.1" r="5"/><circle cx="924.7" cy="1138.2" r="5"/><circle cx="924.7" cy="1135.3" r="5"/><circle cx="927.7" cy="1132.4" r="5"/><circle cx="906.9" cy="1129.5" r="5"/><circle cx="908.9" cy="1126.6" r="5"/><circle cx="927.7" cy="1123.7" r="5"/><circle cx="895.5" cy="1120.8" r="5"/><circle cx="877.1" cy="1117.9" r="5"/><circle cx="965.2" cy="1115.0" r="5"/><circle cx="959.9" cy="1112.1" r="5"/><circle cx="954.6" cy="1109.2" r="5"/><circle cx="934.8" cy="1106.3" r="5"/><circle cx="954.6" cy="1103.4" r="5"/><circle cx="958.2" cy="1100.5" r="5"/><circle cx="948.5" cy="1097.6" r="5"/><circle cx="992.3" cy="1094.7" r="5"/><circle cx="917.4" cy="1091.8" r="5"/><circle cx="864.6" cy="1088.9" r="5"/><circle cx="891.6" cy="1086.0" r="5"/><circle cx="900.4" cy="1083.1" r="5"/><circle cx="900.4" cy="1080.2" r="5"/><circle cx="891.4" cy="1077.2" r="5"/><circle cx="982.6" cy="1074.3" r="5"/><circle cx="930.4" cy="1071.4" r="5"/><circle cx="934.8" cy="1068.5" r="5"/><circle cx="961.7" cy="1065.6" r="5"/><circle cx="935.6" cy="1062.7" r="5"/><circle cx="927.7" cy="1059.8" r="5"/><circle cx="918.8" cy="1056.9" r="5"/><circle cx="946.2" cy="1054.0" r="5"/><circle cx="900.0" cy="1051.1" r="5"/><circle cx="891.1" cy="1048.2" r="5"/><circle cx="900.0" cy="1045.3" r="5"/><circle cx="847.9" cy="1042.4" r="5"/><circle cx="834.7" cy="1039.5" r="5"/><circle cx="826.1" cy="1036.6" r="5"/><circle cx="851.6" cy="1033.7" r="5"/><circle cx="851.6" cy="1030.8" r="5"/><circle cx="869.2" cy="1027.9" r="5"/><circle cx="849.8" cy="1025.0" r="5"/><circle cx="783.3" cy="1022.1" r="5"/><circle cx="783.3" cy="1019.2" r="5"/><circle cx="864.2" cy="1016.3" r="5"/><circle cx="853.7" cy="1013.4" r="5"/><circle cx="880.1" cy="1010.5" r="5"/><circle cx="887.3" cy="1007.6" r="5"/><circle cx="990.5" cy="1004.7" r="5"/><circle cx="847.0" cy="1001.8" r="5"/><circle cx="848.1" cy="998.9" r="5"/><circle cx="825.5" cy="996.0" r="5"/><circle cx="883.6" cy="993.1" r="5"/><circle cx="957.7" cy="990.2" r="5"/><circle cx="867.8" cy="987.3" r="5"/><circle cx="848.1" cy="984.4" r="5"/><circle cx="911.7" cy="981.5" r="5"/><circle cx="892.5" cy="978.6" r="5"/><circle cx="873.4" cy="975.7" r="5"/><circle cx="867.8" cy="972.8" r="5"/><circle cx="982.6" cy="969.9" r="5"/><circle cx="873.0" cy="967.0" r="5"/><circle cx="919.5" cy="964.0" r="5"/><circle cx="944.7" cy="961.1" r="5"/><circle cx="902.0" cy="958.2" r="5"/><circle cx="944.7" cy="955.3" r="5"/><circle cx="934.9" cy="952.4" r="5"/><circle cx="902.0" cy="949.5" r="5"/><circle cx="942.4" cy="946.6" r="5"/><circle cx="951.6" cy="943.7" r="5"/><circle cx="940.3" cy="940.8" r="5"/><circle cx="952.6" cy="937.9" r="5"/><circle cx="958.3" cy="935.0" r="5"/><circle cx="881.8" cy="932.1" r="5"/><circle cx="873.6" cy="929.2" r="5"/><circle cx="867.8" cy="926.3" r="5"/><circle cx="874.3" cy="923.4" r="5"/><circle cx="868.6" cy="920.5" r="5"/><circle cx="915.5" cy="917.6" r="5"/><circle cx="863.9" cy="914.7" r="5"/><circle cx="881.8" cy="911.8" r="5"/><circle cx="871.3" cy="908.9" r="5"/><circle cx="864.2" cy="906.0" r="5"/><circle cx="874.3" cy="903.1" r="5"/><circle cx="863.4" cy="900.2" r="5"/><circle cx="868.3" cy="897.3" r="5"/><circle cx="858.4" cy="894.4" r="5"/><circle cx="830.8" cy="891.5" r="5"/><circle cx="992.9" cy="888.6" r="5"/><circle cx="884.5" cy="885.7" r="5"/><circle cx="955.3" cy="882.8" r="5"/><circle cx="862.1" cy="879.9" r="5"/><circle cx="856.0" cy="877.0" r="5"/><circle cx="891.5" cy="874.1" r="5"/><circle cx="891.5" cy="871.2" r="5"/><circle cx="891.5" cy="868.3" r="5"/><circle cx="841.4" cy="865.4" r="5"/><circle cx="863.9" cy="862.5" r="5"/><circle cx="853.7" cy="859.6" r="5"/><circle cx="881.8" cy="856.7" r="5"/><circle cx="861.2" cy="853.7" r="5"/><circle cx="873.0" cy="850.8" r="5"/><circle cx="837.0" cy="847.9" r="5"/><circle cx="891.2" cy="845.0" r="5"/><circle cx="891.2" cy="842.1" r="5"/><circle cx="891.2" cy="839.2" r="5"/><circle cx="961.3" cy="836.3" r="5"/><circle cx="834.9" cy="833.4" r="5"/><circle cx="840.5" cy="830.5" r="5"/><circle cx="842.6" cy="827.6" r="5"/><circle cx="831.7" cy="824.7" r="5"/><circle cx="825.5" cy="821.8" r="5"/><circle cx="821.1" cy="818.9" r="5"/><circle cx="820.3" cy="816.0" r="5"/><circle cx="863.7" cy="813.1" r="5"/><circle cx="850.5" cy="810.2" r="5"/><circle cx="891.2" cy="807.3" r="5"/><circle cx="844.0" cy="804.4" r="5"/><circle cx="855.4" cy="801.5" r="5"/><circle cx="858.6" cy="798.6" r="5"/><circle cx="891.2" cy="795.7" r="5"/><circle cx="943.0" cy="792.8" r="5"/><circle cx="836.6" cy="789.9" r="5"/><circle cx="809.7" cy="787.0" r="5"/><circle cx="809.2" cy="784.1" r="5"/><circle cx="891.2" cy="781.2" r="5"/><circle cx="837.0" cy="778.3" r="5"/><circle cx="869.9" cy="775.4" r="5"/><circle cx="865.6" cy="772.5" r="5"/><circle cx="859.8" cy="769.6" r="5"/><circle cx="845.2" cy="766.7" r="5"/><circle cx="993.5" cy="763.8" r="5"/><circle cx="840.8" cy="760.9" r="5"/><circle cx="943.3" cy="758.0" r="5"/><circle cx="869.9" cy="755.1" r="5"/><circle cx="932.4" cy="752.2" r="5"/><circle cx="856.3" cy="749.3" r="5"/><circle cx="884.7" cy="746.4" r="5"/><circle cx="867.4" cy="743.4" r="5"/><circle cx="915.5" cy="740.5" r="5"/><circle cx="845.8" cy="737.6" r="5"/><circle cx="863.4" cy="734.7" r="5"/><circle cx="869.5" cy="731.8" r="5"/><circle cx="858.1" cy="728.9" r="5"/><circle cx="873.9" cy="726.0" r="5"/><circle cx="824.1" cy="723.1" r="5"/><circle cx="845.4" cy="720.2" r="5"/><circle cx="891.0" cy="717.3" r="5"/><circle cx="851.6" cy="714.4" r="5"/><circle cx="852.8" cy="711.5" r="5"/><circle cx="818.5" cy="708.6" r="5"/><circle cx="818.5" cy="705.7" r="5"/><circle cx="846.6" cy="702.8" r="5"/><circle cx="818.5" cy="699.9" r="5"/><circle cx="870.7" cy="697.0" r="5"/><circle cx="847.2" cy="694.1" r="5"/><circle cx="890.6" cy="691.2" r="5"/><circle cx="890.6" cy="688.3" r="5"/><circle cx="880.1" cy="685.4" r="5"/><circle cx="840.1" cy="682.5" r="5"/><circle cx="840.1" cy="679.6" r="5"/><circle cx="900.4" cy="676.7" r="5"/><circle cx="864.2" cy="673.8" r="5"/><circle cx="1011.0" cy="670.9" r="5"/><circle cx="845.8" cy="668.0" r="5"/><circle cx="836.1" cy="665.1" r="5"/><circle cx="837.0" cy="662.2" r="5"/><circle cx="838.2" cy="659.3" r="5"/><circle cx="782.4" cy="656.4" r="5"/><circle cx="784.2" cy="653.5" r="5"/><circle cx="851.9" cy="650.6" r="5"/><circle cx="790.0" cy="647.7" r="5"/><circle cx="790.0" cy="644.8" r="5"/><circle cx="790.0" cy="641.9" r="5"/><circle cx="790.1" cy="639.0" r="5"/><circle cx="790.1" cy="636.1" r="5"/><circle cx="846.4" cy="633.2" r="5"/><circle cx="823.6" cy="630.2" r="5"/><circle cx="840.8" cy="627.3" r="5"/><circle cx="861.0" cy="624.4" r="5"/><circle cx="854.3" cy="621.5" r="5"/><circle cx="858.4" cy="618.6" r="5"/><circle cx="791.4" cy="615.7" r="5"/><circle cx="827.4" cy="612.8" r="5"/><circle cx="843.4" cy="609.9" r="5"/><circle cx="854.7" cy="607.0" r="5"/><circle cx="817.9" cy="604.1" r="5"/><circle cx="872.8" cy="601.2" r="5"/><circle cx="847.7" cy="598.3" r="5"/><circle cx="845.5" cy="595.4" r="5"/><circle cx="791.9" cy="592.5" r="5"/><circle cx="836.7" cy="589.6" r="5"/><circle cx="825.0" cy="586.7" r="5"/><circle cx="864.0" cy="583.8" r="5"/><circle cx="766.9" cy="580.9" r="5"/><circle cx="787.1" cy="578.0" r="5"/><circle cx="792.2" cy="575.1" r="5"/><circle cx="776.9" cy="572.2" r="5"/><circle cx="776.9" cy="569.3" r="5"/><circle cx="776.9" cy="566.4" r="5"/><circle cx="827.6" cy="563.5" r="5"/><circle cx="792.2" cy="560.6" r="5"/><circle cx="786.6" cy="557.7" r="5"/><circle cx="786.6" cy="554.8" r="5"/><circle cx="786.1" cy="551.9" r="5"/><circle cx="792.2" cy="549.0" r="5"/><circle cx="782.7" cy="546.1" r="5"/><circle cx="782.7" cy="543.2" r="5"/><circle cx="790.7" cy="540.3" r="5"/><circle cx="790.7" cy="537.4" r="5"/><circle cx="782.7" cy="534.5" r="5"/><circle cx="782.7" cy="531.6" r="5"/><circle cx="792.2" cy="528.7" r="5"/><circle cx="792.2" cy="525.8" r="5"/><circle cx="783.1" cy="522.9" r="5"/><circle cx="792.2" cy="519.9" r="5"/><circle cx="832.0" cy="517.0" r="5"/><circle cx="843.3" cy="514.1" r="5"/><circle cx="859.6" cy="511.2" r="5"/><circle cx="860.0" cy="508.3" r="5"/><circle cx="817.4" cy="505.4" r="5"/><circle cx="838.9" cy="502.5" r="5"/><circle cx="853.1" cy="499.6" r="5"/><circle cx="850.5" cy="496.7" r="5"/><circle cx="828.8" cy="493.8" r="5"/><circle cx="822.3" cy="490.9" r="5"/><circle cx="828.5" cy="488.0" r="5"/><circle cx="835.0" cy="485.1" r="5"/><circle cx="791.9" cy="482.2" r="5"/><circle cx="825.0" cy="479.3" r="5"/><circle cx="890.9" cy="476.4" r="5"/><circle cx="845.2" cy="473.5" r="5"/><circle cx="832.3" cy="470.6" r="5"/><circle cx="795.8" cy="467.7" r="5"/><circle cx="803.7" cy="464.8" r="5"/><circle cx="850.0" cy="461.9" r="5"/><circle cx="850.5" cy="459.0" r="5"/><circle cx="855.6" cy="456.1" r="5"/><circle cx="816.0" cy="453.2" r="5"/><circle cx="791.0" cy="450.3" r="5"/><circle cx="791.9" cy="447.4" r="5"/><circle cx="791.9" cy="444.5" r="5"/><circle cx="866.3" cy="441.6" r="5"/><circle cx="879.0" cy="438.7" r="5"/><circle cx="791.9" cy="435.8" r="5"/><circle cx="853.1" cy="432.9" r="5"/><circle cx="834.5" cy="430.0" r="5"/><circle cx="977.7" cy="427.1" r="5"/><circle cx="868.0" cy="424.2" r="5"/><circle cx="972.3" cy="421.3" r="5"/><circle cx="984.2" cy="418.4" r="5"/><circle cx="954.3" cy="415.5" r="5"/><circle cx="973.7" cy="412.6" r="5"/><circle cx="954.7" cy="409.7" r="5"/><circle cx="957.5" cy="406.7" r="5"/><circle cx="863.6" cy="403.8" r="5"/><circle cx="1001.3" cy="400.9" r="5"/><circle cx="971.9" cy="398.0" r="5"/><circle cx="977.2" cy="395.1" r="5"/><circle cx="900.2" cy="392.2" r="5"/><circle cx="898.9" cy="389.3" r="5"/><circle cx="898.9" cy="386.4" r="5"/><circle cx="899.3" cy="383.5" r="5"/><circle cx="881.3" cy="380.6" r="5"/><circle cx="878.3" cy="377.7" r="5"/><circle cx="997.4" cy="374.8" r="5"/><circle cx="985.6" cy="371.9" r="5"/><circle cx="959.3" cy="369.0" r="5"/><circle cx="1016.4" cy="366.1" r="5"/><circle cx="898.0" cy="363.2" r="5"/><circle cx="958.2" cy="360.3" r="5"/><circle cx="967.9" cy="357.4" r="5"/><circle cx="989.5" cy="354.5" r="5"/><circle cx="959.6" cy="351.6" r="5"/><circle cx="989.9" cy="348.7" r="5"/><circle cx="948.7" cy="345.8" r="5"/><circle cx="957.5" cy="342.9" r="5"/><circle cx="963.1" cy="340.0" r="5"/><circle cx="968.4" cy="337.1" r="5"/><circle cx="964.0" cy="334.2" r="5"/><circle cx="964.9" cy="331.3" r="5"/><circle cx="951.7" cy="328.4" r="5"/><circle cx="895.8" cy="325.5" r="5"/><circle cx="964.4" cy="322.6" r="5"/><circle cx="964.4" cy="319.7" r="5"/><circle cx="854.8" cy="316.8" r="5"/><circle cx="859.8" cy="313.9" r="5"/><circle cx="869.9" cy="311.0" r="5"/><circle cx="873.1" cy="308.1" r="5"/><circle cx="837.0" cy="305.2" r="5"/><circle cx="854.8" cy="302.3" r="5"/><circle cx="822.2" cy="299.4" r="5"/><circle cx="860.1" cy="296.4" r="5"/><circle cx="875.7" cy="293.5" r="5"/><circle cx="867.7" cy="290.6" r="5"/><circle cx="836.4" cy="287.7" r="5"/><circle cx="875.7" cy="284.8" r="5"/><circle cx="948.7" cy="281.9" r="5"/><circle cx="860.9" cy="279.0" r="5"/><circle cx="823.2" cy="276.1" r="5"/><circle cx="827.8" cy="273.2" r="5"/><circle cx="830.0" cy="270.3" r="5"/><circle cx="827.0" cy="267.4" r="5"/><circle cx="827.4" cy="264.5" r="5"/><circle cx="831.0" cy="261.6" r="5"/><circle cx="830.4" cy="258.7" r="5"/><circle cx="829.2" cy="255.8" r="5"/><circle cx="826.8" cy="252.9" r="5"/><circle cx="849.5" cy="250.0" r="5"/><circle cx="834.8" cy="247.1" r="5"/><circle cx="989.5" cy="244.2" r="5"/><circle cx="838.0" cy="241.3" r="5"/><circle cx="833.6" cy="238.4" r="5"/><circle cx="831.0" cy="235.5" r="5"/><circle cx="828.8" cy="232.6" r="5"/><circle cx="842.5" cy="229.7" r="5"/><circle cx="844.2" cy="226.8" r="5"/><circle cx="957.5" cy="223.9" r="5"/><circle cx="955.5" cy="221.0" r="5"/><circle cx="964.7" cy="218.1" r="5"/><circle cx="995.1" cy="215.2" r="5"/><circle cx="987.5" cy="212.3" r="5"/><circle cx="988.8" cy="209.4" r="5"/><circle cx="975.2" cy="206.5" r="5"/><circle cx="982.6" cy="203.6" r="5"/><circle cx="969.4" cy="200.7" r="5"/><circle cx="882.5" cy="197.8" r="5"/><circle cx="954.6" cy="194.9" r="5"/><circle cx="874.4" cy="192.0" r="5"/><circle cx="905.4" cy="189.1" r="5"/><circle cx="958.1" cy="186.2" r="5"/><circle cx="957.6" cy="183.2" r="5"/><circle cx="968.5" cy="180.3" r="5"/><circle cx="954.6" cy="177.4" r="5"/><circle cx="954.6" cy="174.5" r="5"/><circle cx="964.7" cy="171.6" r="5"/><circle cx="964.7" cy="168.7" r="5"/><circle cx="963.4" cy="165.8" r="5"/><circle cx="974.3" cy="162.9" r="5"/><circle cx="974.3" cy="160.0" r="5"/><circle cx="988.0" cy="157.1" r="5"/><circle cx="994.0" cy="154.2" r="5"/><circle cx="976.4" cy="151.3" r="5"/><circle cx="995.1" cy="148.4" r="5"/><circle cx="969.9" cy="145.5" r="5"/><circle cx="964.1" cy="142.6" r="5"/><circle cx="957.6" cy="139.7" r="5"/><circle cx="975.2" cy="136.8" r="5"/><circle cx="972.2" cy="133.9" r="5"/><circle cx="981.9" cy="131.0" r="5"/><circle cx="974.7" cy="128.1" r="5"/><circle cx="968.0" cy="125.2" r="5"/><circle cx="895.2" cy="122.3" r="5"/><circle cx="881.1" cy="119.4" r="5"/><circle cx="968.0" cy="116.5" r="5"/><circle cx="896.6" cy="113.6" r="5"/><circle cx="955.0" cy="110.7" r="5"/><circle cx="987.0" cy="107.8" r="5"/><circle cx="981.9" cy="104.9" r="5"/><circle cx="964.3" cy="102.0" r="5"/><circle cx="969.4" cy="99.1" r="5"/><circle cx="955.0" cy="96.2" r="5"/><circle cx="990.2" cy="93.3" r="5"/><circle cx="885.0" cy="90.4" r="5"/><circle cx="955.0" cy="87.5" r="5"/><circle cx="988.8" cy="84.6" r="5"/><circle cx="829.0" cy="81.7" r="5"/><circle cx="882.5" cy="78.8" r="5"/><circle cx="899.6" cy="75.9" r="5"/><circle cx="958.9" cy="72.9" r="5"/><circle cx="836.4" cy="70.0" r="5"/><circle cx="876.4" cy="67.1" r="5"/><circle cx="859.8" cy="64.2" r="5"/><circle cx="859.8" cy="61.3" r="5"/><circle cx="789.1" cy="58.4" r="5"/><circle cx="822.9" cy="55.5" r="5"/><circle cx="826.4" cy="52.6" r="5"/><circle cx="847.0" cy="49.7" r="5"/><circle cx="875.5" cy="46.8" r="5"/><circle cx="872.0" cy="43.9" r="5"/><circle cx="961.1" cy="41.0" r="5"/><circle cx="882.3" cy="38.1" r="5"/><circle cx="965.0" cy="35.2" r="5"/><circle cx="986.3" cy="32.3" r="5"/><circle cx="979.6" cy="29.4" r="5"/><circle cx="897.3" cy="26.5" r="5"/><circle cx="864.9" cy="23.6" r="5"/><circle cx="895.4" cy="20.7" r="5"/><circle cx="872.2" cy="17.8" r="5"/></g>
<g fill="#ffae6b" stroke="#f9925c" stroke-width="1"><circle cx="567.0" cy="1196.3" r="5"/><circle cx="594.5" cy="1193.4" r="5"/><circle cx="643.5" cy="1190.5" r="5"/><circle cx="646.2" cy="1187.5" r="5"/><circle cx="622.2" cy="1184.6" r="5"/><circle cx="675.2" cy="1181.7" r="5"/><circle cx="675.2" cy="1178.8" r="5"/><circle cx="808.0" cy="1175.9" r="5"/><circle cx="891.2" cy="1173.0" r="5"/><circle cx="891.2" cy="1170.1" r="5"/><circle cx="756.0" cy="1167.2" r="5"/><circle cx="764.3" cy="1164.3" r="5"/><circle cx="769.6" cy="1161.4" r="5"/><circle cx="769.6" cy="1158.5" r="5"/><circle cx="783.3" cy="1155.6" r="5"/><circle cx="999.5" cy="1152.7" r="5"/></g>
<rect x="208.7" y="1199.2" width="1" height="3" fill="#d4d4d4"/>
<g font-family="Liberation Sans, sans-serif" font-size="14.8" fill="#6a6a6a"><text x="26.2" y="1219" text-anchor="middle">2007</text><text x="134.3" y="1219" text-anchor="middle">2008</text><text x="242.5" y="1219" text-anchor="middle">2009</text><text x="350.7" y="1219" text-anchor="middle">2010</text><text x="458.8" y="1219" text-anchor="middle">2011</text><text x="567.0" y="1219" text-anchor="middle">2012</text><text x="675.1" y="1219" text-anchor="middle">2013</text><text x="783.3" y="1219" text-anchor="middle">2014</text><text x="891.4" y="1219" text-anchor="middle">2015</text><text x="999.6" y="1219" text-anchor="middle">2016</text><text x="1107.7" y="1219" text-anchor="middle">2017</text></g>
</svg></body></html>
